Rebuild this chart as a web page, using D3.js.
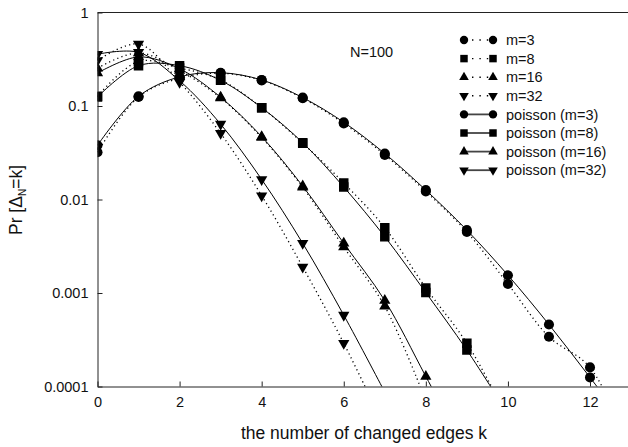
<!DOCTYPE html>
<html>
<head>
<meta charset="utf-8">
<script src="https://cdn.jsdelivr.net/npm/d3@7"></script>
<style>
  body { margin: 0; background: #fff; }
  svg { display: block; font-family: "Liberation Sans", Arial, sans-serif; }
</style>
</head>
<body>
<div id="chart"></div>
<script>
// values, index = k
const kValues = [0, 1, 2, 3, 4, 5, 6, 7, 8, 9, 10, 11, 12, 13];
const sim3 = [0.032, 0.125, 0.198, 0.224, 0.188, 0.121, 0.065, 0.030, 0.0122, 0.0045, 0.00125, 0.00034, 0.00016, 0.00002];
const sim8 = [0.127, 0.30, 0.255, 0.19, 0.096, 0.040, 0.0150, 0.0050, 0.00113, 0.00029, 0.000046];
const sim16 = [0.254, 0.37, 0.24, 0.122, 0.046, 0.0135, 0.0031, 0.00072, 0.00007];
const sim32 = [0.307, 0.46, 0.18, 0.051, 0.011, 0.0019, 0.00029, 0.000036];
const pois3 = [0.038, 0.127, 0.205, 0.227, 0.190, 0.123, 0.067, 0.031, 0.0126, 0.0047, 0.00155, 0.00046, 0.000125, 0.000033];
const pois8 = [0.125, 0.27, 0.27, 0.188, 0.096, 0.0405, 0.0136, 0.0040, 0.00101, 0.000245, 0.000051];
const pois16 = [0.225, 0.335, 0.25, 0.124, 0.047, 0.0139, 0.0034, 0.00083, 0.000128, 0.000019];
const pois32 = [0.358, 0.375, 0.186, 0.064, 0.0164, 0.0034, 0.00058, 0.000087];

const seriesNames = ['m=3', 'm=8', 'm=16', 'm=32', 'poisson (m=3)', 'poisson (m=8)', 'poisson (m=16)', 'poisson (m=32)'];
const xTicks = [0, 2, 4, 6, 8, 10, 12];
const yTicks = [1, 0.1, 0.01, 0.001, 0.0001];
const yTickLabels = ['1', '0.1', '0.01', '0.001', '0.0001'];

const w = 628;
const h = 447;
const plotLeft = 97.5, plotRight = 629, plotTop = 12.5, plotBottom = 386.5;

const symbols = [d3.symbolCircle, d3.symbolSquare, d3.symbolTriangle, d3.symbolTriangle];
const flipped = [false, false, false, true];
const symSize = [80, 90, 55, 55];
const legendSize = [55, 56, 40, 40];

const series = [sim3, sim8, sim16, sim32, pois3, pois8, pois16, pois32].map((vals, i) => ({
  name: seriesNames[i],
  dotted: i < 4,
  shape: i % 4,
  points: vals.map((v, j) => ({ k: kValues[j], v: v }))
}));

const svg = d3.select('#chart').append('svg')
  .attr('width', w)
  .attr('height', h);

const x = d3.scaleLinear().domain([0, 12.95]).range([plotLeft, plotRight]);
const y = d3.scaleLog().domain([0.0001, 1]).range([plotBottom, plotTop]);

svg.append('defs').append('clipPath').attr('id', 'plot-clip')
  .append('rect')
  .attr('x', plotLeft).attr('y', plotTop)
  .attr('width', plotRight - plotLeft).attr('height', plotBottom - plotTop);

const line = d3.line()
  .x(d => x(d.k))
  .y(d => y(d.v))
  .curve(d3.curveCatmullRom.alpha(0.5));

const plot = svg.append('g').attr('clip-path', 'url(#plot-clip)');

series.forEach(s => {
  plot.append('path')
    .datum(s.points)
    .attr('d', line)
    .attr('fill', 'none')
    .attr('stroke', '#000')
    .attr('stroke-width', s.dotted ? 1.3 : 1)
    .attr('stroke-dasharray', s.dotted ? '1.2,3.2' : null);
});

function marker(shape, size) {
  return d3.symbol().type(symbols[shape]).size(size)();
}

series.forEach(s => {
  plot.selectAll(null)
    .data(s.points)
    .enter()
    .append('path')
    .attr('d', marker(s.shape, symSize[s.shape]))
    .attr('transform', d => 'translate(' + x(d.k) + ',' + y(d.v) + ')' + (flipped[s.shape] ? ' rotate(180)' : ''))
    .attr('fill', '#000');
});

// axes
const xAxis = d3.axisBottom(x)
  .tickValues(xTicks)
  .tickSizeInner(-5)
  .tickSizeOuter(0)
  .tickPadding(10);
const yAxis = d3.axisLeft(y)
  .tickValues(yTicks)
  .tickFormat((d, i) => yTickLabels[i])
  .tickSizeInner(-5)
  .tickSizeOuter(0)
  .tickPadding(9);

const gx = svg.append('g')
  .attr('transform', 'translate(0,' + plotBottom + ')')
  .call(xAxis);
const gy = svg.append('g')
  .attr('transform', 'translate(' + plotLeft + ',0)')
  .call(yAxis);

[gx, gy].forEach(g => {
  g.selectAll('.domain').attr('stroke', '#222');
  g.selectAll('.tick line').attr('stroke', '#222');
  g.selectAll('text').attr('font-size', 14.5).attr('fill', '#111')
    .attr('font-family', '"Liberation Sans", Arial, sans-serif');
});

svg.append('line')
  .attr('x1', plotLeft).attr('x2', plotRight)
  .attr('y1', plotTop).attr('y2', plotTop)
  .attr('stroke', '#222');

// axis titles
svg.append('text')
  .attr('x', 364)
  .attr('y', 439)
  .attr('text-anchor', 'middle')
  .attr('font-size', 17.5)
  .attr('fill', '#111')
  .text('the number of changed edges k');

const yTitle = svg.append('text')
  .attr('transform', 'translate(22,200) rotate(-90)')
  .attr('text-anchor', 'middle')
  .attr('font-size', 17.5)
  .attr('fill', '#111');
yTitle.append('tspan').text('Pr [Δ');
yTitle.append('tspan').attr('font-size', 10).attr('dy', 4).text('N');
yTitle.append('tspan').attr('dy', -4).text('=k]');

svg.append('text')
  .attr('x', 350)
  .attr('y', 57)
  .attr('font-size', 14.5)
  .attr('fill', '#111')
  .text('N=100');

// legend
const legend = svg.append('g').attr('id', 'legend');
series.forEach((s, i) => {
  const ly = 40 + i * 18.6;
  legend.append('line')
    .attr('x1', 464).attr('x2', 493)
    .attr('y1', ly).attr('y2', ly)
    .attr('stroke', s.dotted ? '#000' : '#444')
    .attr('stroke-width', s.dotted ? 1.4 : 1.8)
    .attr('stroke-dasharray', s.dotted ? '1.4,6' : null)
    .attr('stroke-dashoffset', s.dotted ? -8 : null);
  [464, 493].forEach(mx => {
    legend.append('path')
      .attr('d', marker(s.shape, legendSize[s.shape]))
      .attr('transform', 'translate(' + mx + ',' + ly + ')' + (flipped[s.shape] ? ' rotate(180)' : ''))
      .attr('fill', '#000');
  });
  legend.append('text')
    .attr('x', 506)
    .attr('y', ly)
    .attr('dy', '0.36em')
    .attr('font-size', 14.5)
    .attr('fill', '#111')
    .text(s.name);
});
</script>
</body>
</html>
